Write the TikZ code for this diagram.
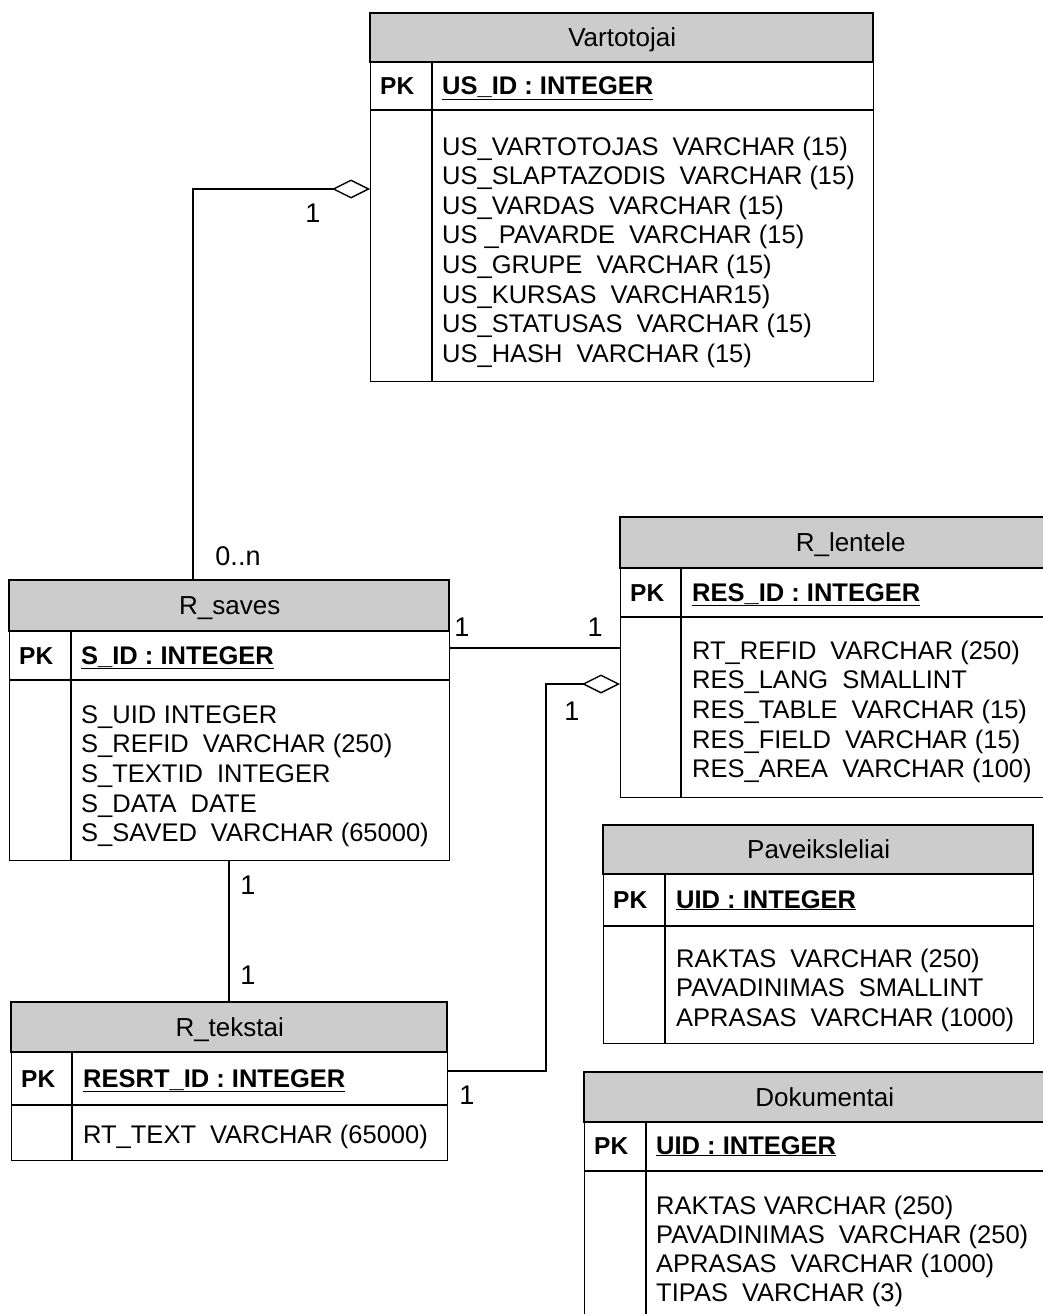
\documentclass[tikz,border=0pt]{standalone}
\usepackage{fontspec}
\setmainfont{Liberation Sans}
\usetikzlibrary{arrows.meta}

\newcommand{\sep}{\hspace{0.55em}}
\newcommand{\nsep}{\hspace{0.3em}}

\tikzset{
  tbl/.style={draw=black, line width=1.4pt, fill=white, inner sep=0pt, anchor=north west},
  hdr/.style={fill=black!20, draw=black, line width=1.4pt},
  rule/.style={draw=black, line width=1.4pt},
  ttl/.style={font=\fontsize{26}{30}\selectfont, anchor=base, inner sep=0pt},
  pk/.style={font=\fontsize{24.5}{29}\selectfont\bfseries, anchor=base west, inner sep=0pt},
  key/.style={font=\fontsize{25.5}{30}\selectfont\bfseries, anchor=base west, inner sep=0pt},
  fld/.style={font=\fontsize{25.5}{30}\selectfont, anchor=base west, inner sep=0pt},
  card/.style={font=\fontsize{27}{31}\selectfont, inner sep=0pt},
  conn/.style={draw=black, line width=1.4pt},
  agg/.style={conn, -{Diamond[open, length=38pt, width=19pt, line width=1.4pt]}},
}

% draws an entity box: name, top-left corner, width, height,
% header height, key-row bottom offset, divider offset, title
\newcommand{\entity}[8]{%
  \node[tbl, minimum width=#3pt, minimum height=#4pt] (#1) at (#2) {};
  \path[hdr] (#1.north west) rectangle ++(#3,#5);
  \draw[rule] (#1.north west) ++(0,#6) -- ++(#3,0);
  \draw[rule] (#1.north west) ++(#7,#5) -- ++(0,#4-#5);
  \node[ttl] (#1-t) at ([yshift=-#5/2*1pt-9pt]#1.north) {#8};
}

\begin{document}
\begin{tikzpicture}[x=1pt, y=-1pt]
\path[use as bounding box, clip] (0,0) rectangle (1043,1314);
\fill[white] (0,0) rectangle (1043,1314);

% ---------- Vartotojai ----------
\entity{vart}{370,13}{503}{368}{49}{97}{62}{Vartotojai}
\node[pk] (vart-pk) at (380,95) {PK};
\node[key] (vart-k) at (442,95) {\underline{US\_ID : INTEGER}};
\foreach \t [count=\i] in {
  US\_VARTOTOJAS\sep VARCHAR (15),
  US\_SLAPTAZODIS\sep VARCHAR (15),
  US\_VARDAS\sep VARCHAR (15),
  US \_PAVARDE\sep VARCHAR (15),
  US\_GRUPE\sep VARCHAR (15),
  US\_KURSAS\sep VARCHAR15),
  US\_STATUSAS\sep VARCHAR (15),
  US\_HASH\sep VARCHAR (15)}
  \node[fld] (vart-f\i) at (442,155+29.6*\i-29.6) {\t};

% ---------- R_saves ----------
\entity{sav}{9,580}{440}{280}{51}{100}{62}{R\_saves}
\node[pk] (sav-pk) at (19,664) {PK};
\node[key] (sav-k) at (81,664) {\underline{S\_ID : INTEGER}};
\foreach \t [count=\i] in {
  S\_UID\nsep INTEGER,
  S\_REFID\sep VARCHAR (250),
  S\_TEXTID\sep INTEGER,
  S\_DATA\sep DATE,
  S\_SAVED\sep VARCHAR (65000)}
  \node[fld] (sav-f\i) at (81,723+29.7*\i-29.7) {\t};

% ---------- R_lentele ----------
\entity{len}{620,517}{460}{280}{51}{100}{61}{R\_lentele}
\node[pk] (len-pk) at (630,601) {PK};
\node[key] (len-k) at (692,601) {\underline{RES\_ID : INTEGER}};
\foreach \t [count=\i] in {
  RT\_REFID\sep VARCHAR (250),
  RES\_LANG\sep SMALLINT,
  RES\_TABLE\sep VARCHAR (15),
  RES\_FIELD\sep VARCHAR (15),
  RES\_AREA\sep VARCHAR (100)}
  \node[fld] (len-f\i) at (692,659+29.7*\i-29.7) {\t};

% ---------- R_tekstai ----------
\entity{tek}{11,1002}{436}{158}{50}{103}{61}{R\_tekstai}
\node[pk] (tek-pk) at (21,1087) {PK};
\node[key] (tek-k) at (83,1087) {\underline{RESRT\_ID : INTEGER}};
\node[fld] (tek-f1) at (83,1143) {RT\_TEXT\sep VARCHAR (65000)};

% ---------- Paveiksleliai ----------
\entity{pav}{603,825}{430}{218}{49}{101}{62}{Paveiksleliai}
\node[pk] (pav-pk) at (613,908) {PK};
\node[key] (pav-k) at (676,908) {\underline{UID : INTEGER}};
\foreach \t [count=\i] in {
  RAKTAS\sep VARCHAR (250),
  PAVADINIMAS\sep SMALLINT,
  APRASAS\sep VARCHAR (1000)}
  \node[fld] (pav-f\i) at (676,967+29.7*\i-29.7) {\t};

% ---------- Dokumentai ----------
\entity{dok}{584,1072}{480}{270}{50}{99}{62}{Dokumentai}
\node[pk] (dok-pk) at (594,1154) {PK};
\node[key] (dok-k) at (656,1154) {\underline{UID : INTEGER}};
\foreach \t [count=\i] in {
  RAKTAS\nsep VARCHAR (250),
  PAVADINIMAS\sep VARCHAR (250),
  APRASAS\sep VARCHAR (1000),
  TIPAS\sep VARCHAR (3)}
  \node[fld] (dok-f\i) at (656,1214+29.3*\i-29.3) {\t};

% ---------- relationships ----------
\coordinate (j1) at (193,189);
\draw[agg] (sav.north -| j1) |- (vart.west |- j1);
\node[card] (c1) at (313,213) {1};
\node[card] (c2) at (238,556) {0..n};

\coordinate (j2) at (0,648);
\draw[conn] (sav.east |- j2) -- (len.west |- j2);
\node[card] (c3) at (462,627) {1};
\node[card] (c4) at (595,627) {1};

\coordinate (j3) at (546,684);
\coordinate (j4) at (546,1071);
\draw[agg] (tek.east |- j4) -| (j3) -- (len.west |- j3);
\node[card] (c5) at (572,711) {1};
\node[card] (c6) at (467,1095) {1};

\coordinate (j5) at (229,0);
\draw[conn] (sav.south -| j5) -- (tek.north -| j5);
\node[card] (c7) at (248,885) {1};
\node[card] (c8) at (248,975) {1};
\end{tikzpicture}
\end{document}
